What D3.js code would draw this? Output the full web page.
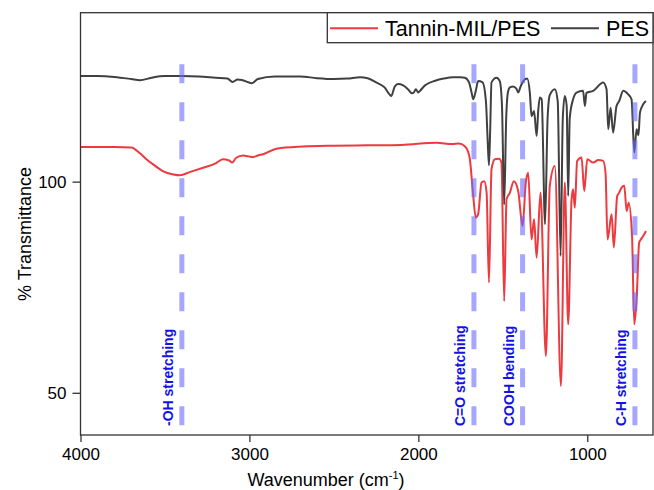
<!DOCTYPE html>
<html>
<head>
<meta charset="utf-8">
<script src="https://cdn.jsdelivr.net/npm/d3@7"></script>
<style>
  body { margin: 0; background: #fff; }
  #chart { width: 654px; height: 490px; }
  text { font-family: Arial, "Liberation Sans", sans-serif; }
</style>
</head>
<body>
<div id="chart"></div>
<script>
var seriesNames = ["Tannin-MIL/PES", "PES"];

var tanWave = [4000, 3800, 3700, 3650, 3610, 3560, 3513, 3450, 3412, 3350, 3274, 3200, 3157, 3120, 3102, 3080,
  3037, 3010, 2978, 2950, 2919, 2840, 2682, 2500, 2300, 2100, 1892, 1800, 1760, 1725, 1710, 1695, 1676, 1660,
  1646, 1626, 1610, 1596, 1582, 1567, 1547, 1522, 1508, 1492, 1478, 1458, 1435, 1409, 1383, 1364, 1350, 1330,
  1315, 1300, 1277, 1245, 1222, 1192, 1156, 1133, 1113, 1093, 1084, 1074, 1060, 1034, 1018, 1000, 965, 935,
  906, 892, 880, 856, 843, 823, 811, 797, 781, 767, 755, 735, 722, 708, 693, 683, 669, 653];
var tanT = [108.2, 108.2, 108.1, 106.8, 105.3, 103.8, 102.5, 101.7, 101.5, 102.3, 103.3, 104.3, 105.3, 105.0, 104.5, 105.6,
  106.2, 106.0, 105.8, 106.2, 106.5, 107.8, 108.3, 108.5, 108.6, 108.7, 109.2, 108.9, 109.0, 108.4, 107.5, 105.3, 97.0, 91.5,
  92.3, 99.8, 100.1, 97.4, 76.1, 102.9, 105.3, 105.4, 104.5, 71.7, 95.8, 97.4, 100.1, 97.8, 89.5, 99.8, 102.1, 86.3,
  91.1, 82.0, 97.4, 58.7, 99.0, 103.7, 51.6, 99.8, 66.2, 95.8, 98.2, 93.8, 104.9, 105.7, 97.8, 105.3, 104.5, 105.1,
  104.9, 102.1, 86.3, 92.3, 84.4, 96.6, 97.4, 98.6, 99.0, 93.0, 95.0, 87.1, 66.2, 72.1, 85.5, 86.3, 87.1, 88.3];

var pesWave = [4000, 3900, 3800, 3700, 3648, 3580, 3500, 3400, 3300, 3200, 3130, 3100, 3070, 3040, 2985, 2950,
  2850, 2700, 2600, 2500, 2420, 2345, 2300, 2250, 2200, 2170, 2160, 2140, 2120, 2090, 2060, 2038, 2025, 2015,
  2000, 1990, 1960, 1900, 1850, 1795, 1750, 1725, 1700, 1685, 1675, 1660, 1646, 1620, 1600, 1590, 1582, 1575,
  1567, 1537, 1518, 1505, 1492, 1480, 1470, 1458, 1439, 1420, 1409, 1395, 1383, 1356, 1340, 1330, 1315, 1300,
  1290, 1281, 1270, 1250, 1235, 1222, 1192, 1175, 1158, 1145, 1133, 1122, 1113, 1104, 1084, 1064, 1025, 1014,
  1005, 965, 906, 886, 876, 862, 847, 827, 811, 787, 759, 738, 722, 708, 697, 688, 669, 653];
var pesT = [125.0, 125.0, 124.8, 124.3, 124.0, 124.6, 125.0, 125.0, 124.9, 124.6, 124.4, 123.6, 124.2, 124.0, 123.3, 124.3,
  124.9, 124.9, 124.5, 124.3, 124.4, 124.7, 124.5, 123.5, 122.3, 120.6, 120.3, 122.5, 123.1, 122.8, 121.8, 120.9, 121.2, 121.9,
  121.1, 121.5, 122.8, 123.9, 124.4, 124.7, 124.7, 124.6, 123.5, 121.1, 119.5, 121.5, 123.8, 123.5, 119.0, 110.0, 103.9, 112.0,
  123.5, 124.6, 123.8, 118.0, 94.6, 115.0, 121.1, 122.3, 122.5, 122.0, 121.1, 122.5, 123.5, 124.4, 121.0, 115.5, 116.7, 110.8,
  117.0, 119.9, 119.5, 89.9, 115.0, 120.5, 121.9, 119.0, 82.4, 115.0, 120.3, 118.0, 96.6, 115.0, 119.5, 121.1, 121.5, 117.9,
  121.0, 121.5, 123.5, 121.9, 112.4, 117.5, 111.6, 117.9, 119.1, 121.5, 120.7, 119.5, 106.9, 112.4, 111.0, 116.4, 118.3, 119.1];

var bandWave = [3400, 1671, 1383, 718];
var bandLabels = ["-OH stretching", "C=O stretching", "COOH bending", "C-H stretching"];

var xTicks = [4000, 3000, 2000, 1000];
var yTicks = [50, 100];

var colors = ["#ec3a3f", "#404040"];

function init() {
  var chartDiv = document.getElementById("chart");
  var svg = d3.select(chartDiv).append("svg")
      .attr("width", 654)
      .attr("height", 490);

  var margin = {left: 80.5, right: 653, top: 12.7, bottom: 435};

  var x = d3.scaleLinear().domain([4000, 611]).range([margin.left, margin.right]);
  var y = d3.scaleLinear().domain([40, 140]).range([margin.bottom, margin.top]);

  svg.append("clipPath").attr("id", "plotclip")
    .append("rect")
      .attr("x", margin.left).attr("y", margin.top)
      .attr("width", margin.right - margin.left).attr("height", margin.bottom - margin.top);

  var line = d3.line()
      .x(function(d) { return x(d[0]); })
      .y(function(d) { return y(d[1]); })
      .curve(d3.curveMonotoneX);

  var plot = svg.append("g").attr("clip-path", "url(#plotclip)");

  var tanData = d3.zip(tanWave, tanT);
  var pesData = d3.zip(pesWave, pesT);

  plot.append("path")
      .datum(tanData)
      .attr("fill", "none")
      .attr("stroke", colors[0])
      .attr("stroke-width", 2)
      .attr("stroke-linejoin", "round")
      .attr("d", line);

  plot.append("path")
      .datum(pesData)
      .attr("fill", "none")
      .attr("stroke", colors[1])
      .attr("stroke-width", 2)
      .attr("stroke-linejoin", "round")
      .attr("d", line);

  // band markers
  plot.selectAll(".band")
      .data(bandWave)
    .enter().append("line")
      .attr("class", "band")
      .attr("x1", function(d) { return x(d); })
      .attr("x2", function(d) { return x(d); })
      .attr("y1", y(127.8))
      .attr("y2", y(40))
      .attr("stroke", "#6b6bff")
      .attr("stroke-opacity", 0.6)
      .attr("stroke-width", 5)
      .attr("stroke-dasharray", "19,19");

  svg.selectAll(".bandlabel")
      .data(bandWave)
    .enter().append("text")
      .attr("class", "bandlabel")
      .attr("transform", function(d) { return "translate(" + (x(d) - 8.5) + "," + 426 + ") rotate(-90)"; })
      .attr("font-size", "14px")
      .attr("font-weight", "bold")
      .attr("fill", "#1212e8")
      .text(function(d, i) { return bandLabels[i]; });

  // axes
  var xAxis = svg.append("g")
      .attr("transform", "translate(0," + margin.bottom + ")")
      .call(d3.axisBottom(x).tickValues(xTicks).tickSize(7).tickPadding(6).tickFormat(d3.format("d")));
  var yAxis = svg.append("g")
      .attr("transform", "translate(" + margin.left + ",0)")
      .call(d3.axisLeft(y).tickValues(yTicks).tickSize(8).tickPadding(6));

  [xAxis, yAxis].forEach(function(a) {
    a.select(".domain").remove();
    a.selectAll("line").attr("stroke", "#222").attr("stroke-width", 1.2);
    a.selectAll("text").attr("font-size", "17px").attr("fill", "#000")
      .style("font-family", "Arial, 'Liberation Sans', sans-serif");
  });

  svg.append("rect")
      .attr("x", margin.left).attr("y", margin.top)
      .attr("width", margin.right - margin.left).attr("height", margin.bottom - margin.top)
      .attr("fill", "none")
      .attr("stroke", "#333")
      .attr("stroke-width", 1.3);

  var xTitle = svg.append("text")
      .attr("x", 326)
      .attr("y", 486)
      .attr("text-anchor", "middle")
      .attr("font-size", "18px");
  xTitle.append("tspan").text("Wavenumber (cm");
  xTitle.append("tspan").attr("font-size", "11px").attr("dy", "-7").text("-1");
  xTitle.append("tspan").attr("dy", "7").text(")");

  svg.append("text")
      .attr("transform", "translate(30.5,234) rotate(-90)")
      .attr("text-anchor", "middle")
      .attr("font-size", "18px")
      .text("% Transmittance");

  // legend
  var legend = svg.append("g");
  legend.append("rect")
      .attr("x", 327.3).attr("y", margin.top)
      .attr("width", margin.right - 327.3).attr("height", 30)
      .attr("fill", "#fff")
      .attr("stroke", "#333")
      .attr("stroke-width", 1.3);

  var legX = [330, 551];
  seriesNames.forEach(function(name, i) {
    legend.append("line")
        .attr("x1", legX[i]).attr("x2", legX[i] + 48)
        .attr("y1", 28.3).attr("y2", 28.3)
        .attr("stroke", colors[i])
        .attr("stroke-width", 2);
    legend.append("text")
        .attr("x", legX[i] + 55)
        .attr("y", 36)
        .attr("font-size", "21.5px")
        .text(name);
  });
}
init();
</script>
</body>
</html>
